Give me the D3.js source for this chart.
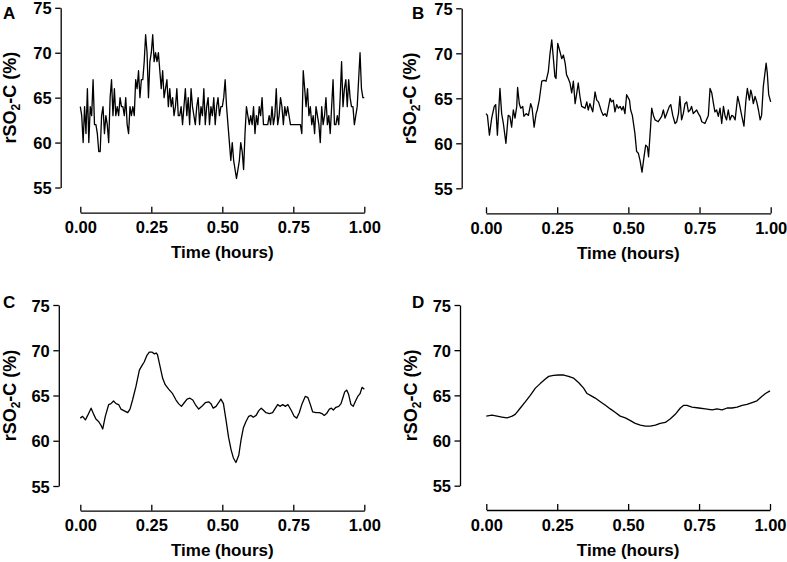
<!DOCTYPE html>
<html><head><meta charset="utf-8">
<script src="https://cdn.jsdelivr.net/npm/d3@7"></script>
<style>
body{margin:0;background:#fff}
svg{display:block}
text{font-family:"Liberation Sans",Arial,sans-serif;font-weight:bold;fill:#000}
</style>
</head><body>
<svg id="chart" width="787" height="562"></svg>
<script>
// ---------------- data ----------------
const xTicks = [0, 0.25, 0.5, 0.75, 1];
const xTickLabels = ["0.00", "0.25", "0.50", "0.75", "1.00"];
const yTicks = [55, 60, 65, 70, 75];
const yDomain = [55, 75];
const xDomain = [0, 1];
const panelLetters = ["A", "B", "C", "D"];
const xTitle = "Time (hours)";

// Panel A: raw integer samples, evenly spaced over 0..1 h
const valuesA = [
64,63,60,64,61,66,60,64,63,67,
62,62,61,59,59,63,64,61,63,62,
60,65,67,63,66,63,64,63,65,64,
64,63,65,62,61,64,63,64,63,67,
66,68,65,67,67,69,72,70,65,69,
70,72,69,70,69,70,68,66,68,65,
66,67,64,66,64,65,63,64,66,63,
63,64,62,64,66,63,65,62,66,64,
63,62,64,65,62,64,63,66,62,64,
65,62,64,63,65,62,64,65,63,64,
64,65,67,64,62,60,58,60,58,57,
56,57,58,60,59,57,61,64,63,62,
63,62,64,61,63,62,64,63,65,62,
62,62,62,63,62,64,62,63,66,62,
63,65,64,62,64,63,64,63,62,62,
62,62,62,62,62,62,61,68,66,64,
66,63,64,62,63,61,64,63,62,60,
64,62,63,65,62,63,61,64,67,62,
62,63,62,65,69,64,66,67,64,67,
65,64,64,62,63,64,67,70,66,65,65
];

// Panel B
const timeB = [0.000,0.005,0.012,0.020,0.029,0.034,0.040,0.049,0.055,0.061,0.070,0.078,0.084,0.090,0.096,0.102,0.108,0.111,0.117,0.122,0.129,0.133,0.141,0.149,0.157,0.162,0.169,0.176,0.180,0.187,0.196,0.204,0.211,0.219,0.225,0.231,0.237,0.242,0.246,0.252,0.258,0.266,0.272,0.278,0.283,0.289,0.295,0.301,0.307,0.313,0.319,0.324,0.330,0.336,0.348,0.354,0.359,0.365,0.375,0.383,0.389,0.395,0.400,0.406,0.412,0.418,0.424,0.436,0.441,0.447,0.453,0.459,0.465,0.471,0.477,0.482,0.488,0.494,0.504,0.508,0.514,0.523,0.529,0.535,0.541,0.548,0.555,0.561,0.567,0.571,0.578,0.582,0.588,0.594,0.605,0.617,0.623,0.629,0.635,0.644,0.649,0.656,0.664,0.670,0.676,0.681,0.687,0.693,0.699,0.705,0.711,0.717,0.722,0.728,0.734,0.740,0.746,0.752,0.758,0.769,0.781,0.787,0.793,0.799,0.804,0.810,0.816,0.822,0.828,0.834,0.840,0.845,0.851,0.857,0.863,0.869,0.875,0.884,0.890,0.898,0.906,0.913,0.918,0.925,0.930,0.934,0.939,0.945,0.951,0.957,0.963,0.968,0.974,0.984,0.988,0.993,1.000];
const valuesB = [63.3,63.1,60.9,62.8,64.1,64.3,60.9,66.1,63.3,62.2,60.0,63.1,63.0,61.8,63.7,62.8,64.1,66.2,64.4,63.9,64.1,63.0,63.3,63.1,64.4,63.9,61.8,63.3,63.7,64.8,66.9,67.0,66.9,68.0,70.0,71.5,69.3,67.4,67.2,71.1,70.4,69.4,69.8,68.9,67.6,67.2,66.7,65.6,66.9,64.4,65.6,66.7,65.2,64.1,63.9,64.6,63.7,64.4,63.5,65.7,64.8,64.6,64.1,63.5,63.1,63.3,63.0,65.0,64.6,64.8,63.5,64.3,63.9,64.1,63.7,64.1,63.3,65.4,64.8,63.7,63.1,61.1,59.1,58.9,58.1,56.8,58.5,59.8,59.6,58.5,61.8,63.9,63.1,62.6,62.4,63.0,63.7,62.8,63.3,64.1,64.3,63.1,62.2,62.4,63.3,65.2,62.6,63.3,64.4,64.6,63.5,63.7,64.1,63.3,63.5,63.7,63.3,63.0,62.4,62.2,63.1,66.1,65.6,64.4,63.5,63.7,63.0,63.9,62.2,64.1,63.0,62.6,63.7,62.6,63.1,63.0,62.6,65.2,64.4,63.1,61.9,64.8,66.1,64.8,65.9,65.4,64.4,65.2,64.6,63.7,62.6,63.1,66.3,68.9,67.8,65.4,64.6];

// Panel C
const timeC = [0.000,0.008,0.018,0.026,0.038,0.046,0.055,0.065,0.073,0.079,0.088,0.100,0.108,0.117,0.126,0.135,0.143,0.155,0.167,0.175,0.184,0.196,0.208,0.217,0.225,0.234,0.243,0.252,0.261,0.267,0.272,0.281,0.290,0.299,0.311,0.325,0.337,0.346,0.356,0.366,0.376,0.386,0.396,0.405,0.417,0.428,0.440,0.452,0.460,0.468,0.478,0.487,0.495,0.504,0.513,0.522,0.531,0.539,0.548,0.558,0.566,0.574,0.583,0.593,0.601,0.609,0.619,0.628,0.637,0.644,0.654,0.666,0.677,0.687,0.695,0.703,0.713,0.722,0.731,0.742,0.753,0.762,0.771,0.781,0.792,0.801,0.809,0.818,0.830,0.842,0.851,0.859,0.867,0.877,0.884,0.891,0.900,0.910,0.918,0.924,0.931,0.938,0.945,0.953,0.961,0.968,0.977,0.985,0.992,1.000];
const valuesC = [62.5,62.7,62.3,62.8,63.6,63.0,62.4,62.1,61.7,61.3,62.7,64.0,64.1,64.4,64.1,64.0,63.5,63.3,63.1,63.5,64.5,66.0,67.8,68.3,68.7,69.4,69.8,69.8,69.6,69.7,69.5,68.2,66.9,66.2,65.7,65.2,64.5,64.1,63.8,64.2,64.6,64.7,64.5,64.0,63.5,63.8,64.2,64.3,64.1,63.6,63.8,64.2,64.6,64.1,62.3,60.4,59.0,58.1,57.6,58.4,60.1,61.4,62.1,62.7,62.8,62.6,62.8,63.3,63.6,63.4,63.1,63.0,63.1,63.6,64.0,63.8,64.0,63.8,64.0,63.4,62.7,62.5,63.1,64.1,64.9,64.8,64.1,63.2,63.1,63.1,63.0,62.8,63.0,63.5,63.6,63.4,63.7,63.8,64.1,64.7,65.4,65.6,65.1,64.0,63.8,64.3,64.9,65.2,65.9,65.7];

// Panel D
const timeD = [0.000,0.020,0.038,0.055,0.073,0.091,0.102,0.120,0.138,0.155,0.173,0.190,0.208,0.220,0.237,0.255,0.273,0.290,0.308,0.326,0.343,0.355,0.367,0.384,0.402,0.420,0.437,0.455,0.472,0.490,0.508,0.525,0.543,0.561,0.578,0.596,0.613,0.631,0.649,0.666,0.684,0.696,0.707,0.725,0.749,0.772,0.796,0.813,0.831,0.849,0.866,0.884,0.902,0.919,0.937,0.954,0.972,0.984,1.000];
const valuesD = [62.7,62.8,62.7,62.6,62.5,62.7,62.9,63.6,64.3,65.0,65.8,66.3,66.8,67.1,67.2,67.25,67.25,67.1,66.9,66.4,65.8,65.2,65.0,64.7,64.3,63.9,63.5,63.1,62.7,62.5,62.2,61.9,61.7,61.6,61.6,61.7,61.9,62.0,62.4,62.9,63.6,63.9,63.9,63.7,63.6,63.5,63.4,63.5,63.4,63.6,63.6,63.7,63.9,64.0,64.2,64.4,64.9,65.2,65.5];

// ---------------- layout ----------------
const panels = [
  {letter: panelLetters[0], yAxisX: 60.7, x0: 80.3, x1: 364.3, yTop: 7.8, yBot: 187.5, xAxisY: 212.7, lx: 3, ly: 18.5, titleX: 16},
  {letter: panelLetters[1], yAxisX: 461.7, x0: 486, x1: 770.7, yTop: 8.3, yBot: 188.3, xAxisY: 213.3, lx: 412, ly: 18.5, titleX: 416},
  {letter: panelLetters[2], yAxisX: 58.8, x0: 80.3, x1: 364.3, yTop: 305, yBot: 486, xAxisY: 510.7, lx: 3, ly: 308, titleX: 16},
  {letter: panelLetters[3], yAxisX: 460, x0: 486.3, x1: 770, yTop: 305, yBot: 485.7, xAxisY: 510, lx: 412, ly: 308, titleX: 416.5}
];

const series = [
  valuesA.map((v, i) => ({t: i / (valuesA.length - 1), v})),
  timeB.map((t, i) => ({t, v: valuesB[i]})),
  timeC.map((t, i) => ({t, v: valuesC[i]})),
  timeD.map((t, i) => ({t, v: valuesD[i]}))
];

const svg = d3.select("#chart");
const FS = 16.5;

panels.forEach((p, k) => {
  const x = d3.scaleLinear().domain(xDomain).range([p.x0, p.x1]);
  const y = d3.scaleLinear().domain(yDomain).range([p.yBot, p.yTop]);
  const cy = (p.yTop + p.yBot) / 2;

  // y axis
  const gy = svg.append("g")
    .attr("transform", `translate(${p.yAxisX},0)`)
    .call(d3.axisLeft(y).tickValues(yTicks).tickSizeInner(5.5).tickSizeOuter(0).tickPadding(3.5).tickFormat(d3.format("d")));
  gy.attr("font-size", null).attr("font-family", null);
  gy.selectAll("path,line").attr("stroke", "#000").attr("stroke-width", 1.3);
  gy.selectAll("text").attr("font-size", FS).attr("dy", "0.37em");

  // x axis
  const gx = svg.append("g")
    .attr("transform", `translate(0,${p.xAxisY})`)
    .call(d3.axisBottom(x).tickValues(xTicks).tickSizeInner(-6).tickSizeOuter(0)
      .tickFormat((d, i) => xTickLabels[i]));
  gx.attr("font-size", null).attr("font-family", null);
  gx.selectAll("path,line").attr("stroke", "#000").attr("stroke-width", 1.3);
  gx.selectAll("text").attr("font-size", FS).attr("y", 20.5).attr("dy", null);

  // x title
  svg.append("text").attr("x", (p.x0 + p.x1) / 2).attr("y", p.xAxisY + 45.5)
    .attr("text-anchor", "middle").attr("font-size", 17).text(xTitle);

  // y title
  const yt = svg.append("text")
    .attr("transform", `translate(${p.titleX},${cy}) rotate(-90)`)
    .attr("text-anchor", "middle").attr("font-size", 18);
  yt.append("tspan").text("rSO");
  yt.append("tspan").attr("font-size", 12).attr("dy", 4).text("2");
  yt.append("tspan").attr("dy", -4).text("-C (%)");

  // panel letter
  svg.append("text").attr("x", p.lx).attr("y", p.ly).attr("font-size", 17).text(p.letter);

  // data line
  svg.append("path").datum(series[k])
    .attr("fill", "none").attr("stroke", "#000").attr("stroke-width", 1.3)
    .attr("stroke-linejoin", "round")
    .attr("d", d3.line().x(d => x(d.t)).y(d => y(d.v)));
});
</script>
</body></html>
